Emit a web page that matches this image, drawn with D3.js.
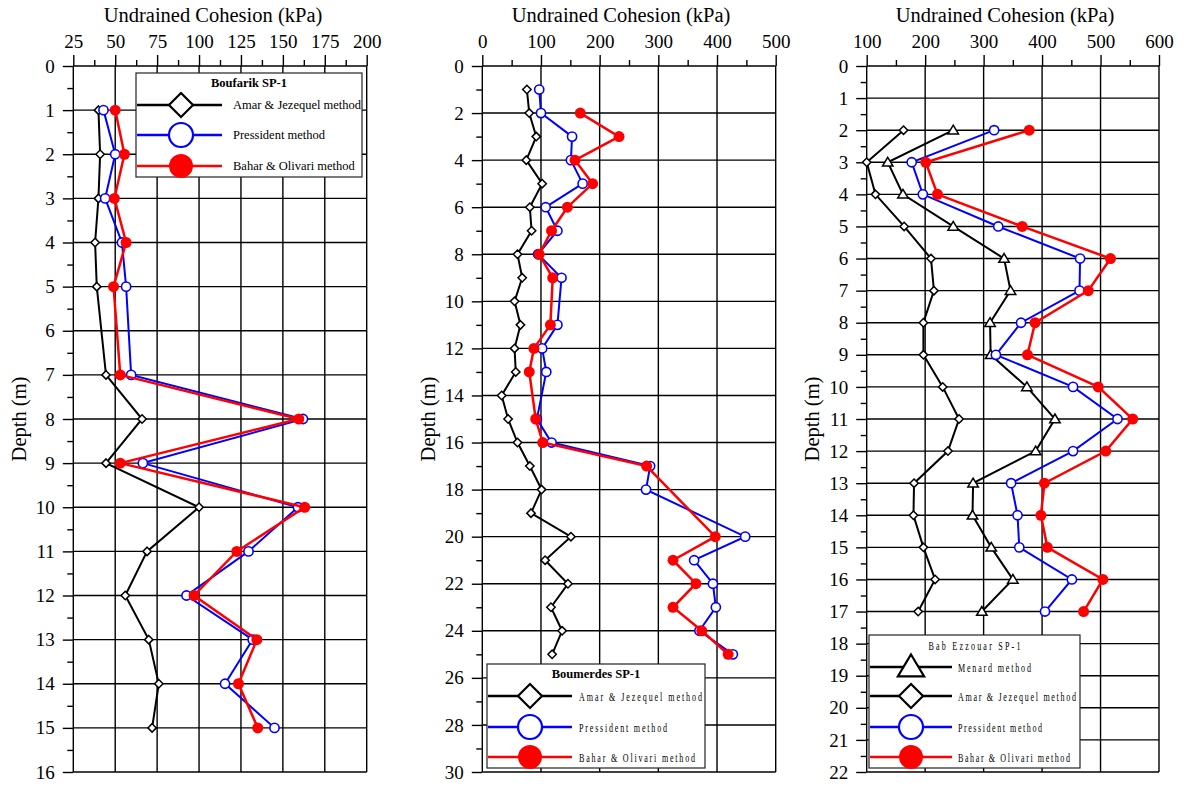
<!DOCTYPE html>
<html>
<head>
<meta charset="utf-8">
<script src="https://cdn.jsdelivr.net/npm/d3@7"></script>
<style>
  body { margin: 0; background: #fff; }
  svg { display: block; }
  text { font-family: "Liberation Serif", "Times New Roman", serif; fill: #000; }
</style>
</head>
<body>
<svg id="chart" width="1184" height="787"></svg>
<script>
// ---------- Boufarik SP-1 ----------
const boufarikDepth = [1, 2, 3, 4, 5, 7, 8, 9, 10, 11, 12, 13, 14, 15];
const boufarikAmar = [40, 41, 40, 38, 39, 44.5, 66, 44.5, 100, 69, 56, 70, 76, 72];
const boufarikPressident = [43, 50, 44, 54, 56.5, 59.5, 162, 66.5, 159, 129.5, 92.5, 132, 115.5, 145];
const boufarikBahar = [50, 55.5, 49.5, 56.5, 49, 53, 159.5, 53, 163, 122.5, 97, 134.5, 123.5, 135];
const boufarikXTicks = [25, 50, 75, 100, 125, 150, 175, 200];
const boufarikYTicks = [0, 1, 2, 3, 4, 5, 6, 7, 8, 9, 10, 11, 12, 13, 14, 15, 16];

// ---------- Boumerdes SP-1 ----------
const boumerdesAmarDepth = [1, 2, 3, 4, 5, 6, 7, 8, 9, 10, 11, 12, 13, 14, 15, 16, 17, 18, 19, 20, 21, 22, 23, 24, 25];
const boumerdesAmar = [76, 80, 92, 75, 102, 81, 84, 60, 68, 55, 65, 55, 57, 33, 44, 60, 81, 101, 83, 151, 107, 146, 117, 136, 119];
const boumerdesPressidentDepth = [1, 2, 3, 4, 5, 6, 7, 8, 9, 11, 12, 13, 15, 16, 17, 18, 20, 21, 22, 23, 24, 25];
const boumerdesPressident = [97, 100, 153, 151, 171, 108, 128, 95, 135, 128, 102, 109, 93, 118, 286, 279, 448, 361, 393, 398, 370, 427];
const boumerdesBaharDepth = [2, 3, 4, 5, 6, 7, 8, 9, 11, 12, 13, 15, 16, 17, 20, 21, 22, 23, 24, 25];
const boumerdesBahar = [167, 233, 158, 188, 145, 118, 97, 120, 116, 88, 80, 91, 103, 280, 397, 325, 364, 325, 374, 419];
const boumerdesXTicks = [0, 100, 200, 300, 400, 500];
const boumerdesYTicks = [0, 2, 4, 6, 8, 10, 12, 14, 16, 18, 20, 22, 24, 26, 28, 30];

// ---------- Bab Ezzouar SP-1 ----------
const babDepth = [2, 3, 4, 5, 6, 7, 8, 9, 10, 11, 12, 13, 14, 15, 16, 17];
const babMenard = [248, 136, 162, 248, 335, 346, 311, 312, 374, 422, 389, 282, 281, 313, 350, 297];
const babAmar = [163, 100, 115, 164, 210, 215, 197, 197, 230, 258, 239, 181, 180, 197, 217, 188];
const babPressident = [318, 177, 196, 325, 465, 464, 364, 321, 453, 529, 453, 347, 358, 361, 451, 405];
const babBahar = [378, 201, 221, 366, 517, 479, 388, 375, 496, 555, 509, 404, 398, 409, 504, 471];
const babXTicks = [100, 200, 300, 400, 500, 600];
const babYTicks = [0, 1, 2, 3, 4, 5, 6, 7, 8, 9, 10, 11, 12, 13, 14, 15, 16, 17, 18, 19, 20, 21, 22];

const xTitle = "Undrained Cohesion (kPa)";
const yTitle = "Depth (m)";

const methodStyles = {
  menard:     { color: "#000", marker: "triangle", width: 2,   label: "Menard method" },
  amar:       { color: "#000", marker: "diamond",  width: 2,   label: "Amar & Jezequel method" },
  pressident: { color: "#0000ff", marker: "circle", width: 2,  label: "Pressident method" },
  bahar:      { color: "#ff0000", marker: "dot",    width: 2.5, label: "Bahar & Olivari method" }
};

const zip = (depths, values) => depths.map((d, i) => ({ depth: d, value: values[i] }));

const panels = [
  {
    name: "Boufarik SP-1",
    xDomain: [25, 200], xRange: [73.3, 366.7],
    yDomain: [0, 16], yRange: [66, 772],
    xTicks: boufarikXTicks, yTicks: boufarikYTicks,
    titleX: 213, yTitleX: 19,
    series: [
      { key: "amar", data: zip(boufarikDepth, boufarikAmar) },
      { key: "pressident", data: zip(boufarikDepth, boufarikPressident) },
      { key: "bahar", data: zip(boufarikDepth, boufarikBahar) }
    ],
    legend: {
      box: [136, 73, 226, 104], titleY: 83, bold: true, spaced: false,
      rows: [105, 135, 166], lineX: [137, 222], markX: 181, textX: 233,
      order: ["amar", "pressident", "bahar"]
    }
  },
  {
    name: "Boumerdes SP-1",
    xDomain: [0, 500], xRange: [482.3, 775.7],
    yDomain: [0, 30], yRange: [66, 772],
    xTicks: boumerdesXTicks, yTicks: boumerdesYTicks,
    titleX: 621, yTitleX: 428,
    series: [
      { key: "amar", data: zip(boumerdesAmarDepth, boumerdesAmar) },
      { key: "pressident", data: zip(boumerdesPressidentDepth, boumerdesPressident) },
      { key: "bahar", data: zip(boumerdesBaharDepth, boumerdesBahar) }
    ],
    legend: {
      box: [487, 664, 218, 104], titleY: 674, bold: true, spaced: true,
      rows: [696, 727, 757], lineX: [488, 572], markX: 530, textX: 579,
      widths: { amar: 123, pressident: 88, bahar: 116 },
      order: ["amar", "pressident", "bahar"]
    }
  },
  {
    name: "Bab Ezzouar SP-1",
    xDomain: [100, 600], xRange: [866.7, 1159],
    yDomain: [0, 22], yRange: [66, 772],
    xTicks: babXTicks, yTicks: babYTicks,
    titleX: 1005, yTitleX: 812,
    series: [
      { key: "menard", data: zip(babDepth, babMenard) },
      { key: "amar", data: zip(babDepth, babAmar) },
      { key: "pressident", data: zip(babDepth, babPressident) },
      { key: "bahar", data: zip(babDepth, babBahar) }
    ],
    legend: {
      box: [869, 635, 211, 133], titleY: 645, bold: false, spaced: true, titleWidth: 92,
      rows: [667, 696, 727, 757], lineX: [870, 952], markX: 911, textX: 958,
      widths: { menard: 73, amar: 118, pressident: 84, bahar: 112 },
      order: ["menard", "amar", "pressident", "bahar"]
    }
  }
];

// narrow, widely tracked lettering used in two of the legends
const CONDENSE = 0.62;

const svg = d3.select("#chart");

function markerPath(type, s) {
  if (type === "diamond") return `M0,${-s}L${s},0L0,${s}L${-s},0Z`;
  if (type === "triangle") return `M0,${-s}L${s * 1.05},${s * 0.75}L${-s * 1.05},${s * 0.75}Z`;
  return null;
}

function drawMarker(g, type, color, cx, cy, s) {
  if (type === "circle") {
    g.append("circle").attr("cx", cx).attr("cy", cy).attr("r", s)
      .attr("fill", "#fff").attr("stroke", color).attr("stroke-width", s > 8 ? 2.2 : 1.6);
  } else if (type === "dot") {
    g.append("circle").attr("cx", cx).attr("cy", cy).attr("r", s).attr("fill", color);
  } else {
    g.append("path").attr("d", markerPath(type, s))
      .attr("transform", `translate(${cx},${cy})`)
      .attr("fill", "#fff").attr("stroke", color).attr("stroke-width", s > 8 ? 2.2 : 1.5)
      .attr("stroke-linejoin", "miter");
  }
}

function spacedText(g, x, y, str, width, size, anchor) {
  return g.append("text")
    .attr("transform", `translate(${x},${y}) scale(${CONDENSE},1)`)
    .attr("dy", "0.35em").attr("font-size", size)
    .attr("text-anchor", anchor || "start")
    .attr("textLength", width / CONDENSE).attr("lengthAdjust", "spacing")
    .text(str);
}

panels.forEach(p => {
  const x = d3.scaleLinear().domain(p.xDomain).range(p.xRange);
  const y = d3.scaleLinear().domain(p.yDomain).range(p.yRange);
  const g = svg.append("g");

  const xStep = p.xTicks[1] - p.xTicks[0];
  const yStep = p.yTicks[1] - p.yTicks[0];
  const xMinor = p.xTicks.slice(0, -1).map(v => v + xStep / 2);
  const yMinor = p.yTicks.slice(0, -1).map(v => v + yStep / 2);

  // grid
  const grid = g.append("g").attr("stroke", "#000").attr("stroke-width", 1.4);
  grid.selectAll(".vg").data(p.xTicks).join("line")
    .attr("x1", d => x(d)).attr("x2", d => x(d))
    .attr("y1", p.yRange[0]).attr("y2", p.yRange[1]);
  grid.selectAll(".hg").data(p.yTicks).join("line")
    .attr("x1", p.xRange[0]).attr("x2", p.xRange[1])
    .attr("y1", d => y(d)).attr("y2", d => y(d));

  // top axis
  const top = g.append("g").attr("transform", `translate(0,${p.yRange[0]})`)
    .call(d3.axisTop(x).tickValues(p.xTicks).tickSize(11).tickPadding(7).tickFormat(d3.format("d")));
  const topMinor = g.append("g").attr("transform", `translate(0,${p.yRange[0]})`)
    .call(d3.axisTop(x).tickValues(xMinor).tickSize(6).tickFormat(""));
  // left axis
  const left = g.append("g").attr("transform", `translate(${p.xRange[0]},0)`)
    .call(d3.axisLeft(y).tickValues(p.yTicks).tickSize(10.5).tickPadding(8).tickFormat(d3.format("d")));
  const leftMinor = g.append("g").attr("transform", `translate(${p.xRange[0]},0)`)
    .call(d3.axisLeft(y).tickValues(yMinor).tickSize(6).tickFormat(""));

  [top, topMinor, left, leftMinor].forEach(a => {
    a.attr("font-family", null);
    a.select(".domain").remove();
    a.selectAll(".tick line").attr("stroke", "#000").attr("stroke-width", 1.4);
    a.selectAll("text").attr("font-size", 19).attr("fill", "#000");
  });

  // titles
  g.append("text").attr("x", p.titleX).attr("y", 22).attr("text-anchor", "middle")
    .attr("font-size", 20.5).text(xTitle);
  g.append("text").attr("transform", `translate(${p.yTitleX},${(p.yRange[0] + p.yRange[1]) / 2}) rotate(-90)`)
    .attr("text-anchor", "middle").attr("dy", "0.35em").attr("font-size", 20.5).text(yTitle);

  // series
  const line = d3.line().x(d => x(d.value)).y(d => y(d.depth));
  p.series.forEach(s => {
    const st = methodStyles[s.key];
    const sg = g.append("g");
    sg.append("path").datum(s.data).attr("d", line)
      .attr("fill", "none").attr("stroke", st.color).attr("stroke-width", st.width)
      .attr("stroke-linejoin", "miter");
    const size = st.marker === "dot" ? 5.5 : st.marker === "circle" ? 4.6 : st.marker === "triangle" ? 5 : 4.2;
    s.data.forEach(d => drawMarker(sg, st.marker, st.color, x(d.value), y(d.depth), size));
  });

  // legend
  const L = p.legend;
  const lg = g.append("g");
  lg.append("rect").attr("x", L.box[0]).attr("y", L.box[1]).attr("width", L.box[2]).attr("height", L.box[3])
    .attr("fill", "#fff").attr("stroke", "#222").attr("stroke-width", 1.2);
  const cx = L.box[0] + L.box[2] / 2;
  if (L.titleWidth) {
    spacedText(lg, cx, L.titleY, p.name, L.titleWidth, 13, "middle");
  } else {
    lg.append("text").attr("x", cx).attr("y", L.titleY).attr("dy", "0.35em")
      .attr("text-anchor", "middle").attr("font-size", 12.5)
      .attr("font-weight", L.bold ? "bold" : "normal").text(p.name);
  }

  L.order.forEach((key, i) => {
    const st = methodStyles[key];
    const ry = L.rows[i];
    lg.append("line").attr("x1", L.lineX[0]).attr("x2", L.lineX[1]).attr("y1", ry).attr("y2", ry)
      .attr("stroke", st.color).attr("stroke-width", 2.4);
    drawMarker(lg, st.marker, st.color, L.markX, ry, st.marker === "triangle" ? 12.5 : 12);
    if (L.spaced) {
      spacedText(lg, L.textX, ry, st.label, L.widths[key], 13);
    } else {
      lg.append("text").attr("x", L.textX).attr("y", ry).attr("dy", "0.35em")
        .attr("font-size", 12.5).text(st.label);
    }
  });
});
</script>
</body>
</html>
